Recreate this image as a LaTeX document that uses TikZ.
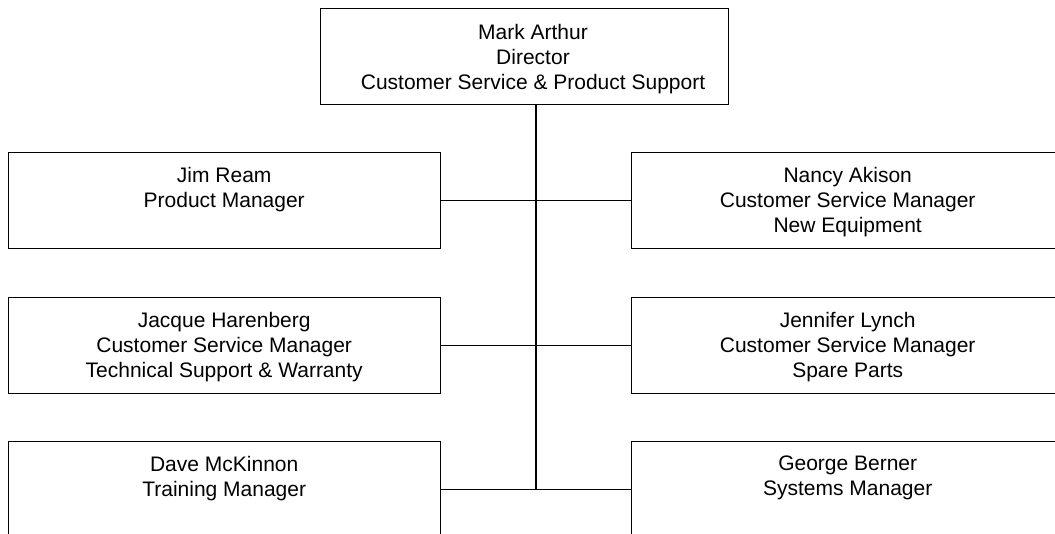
\documentclass[tikz,border=0pt]{standalone}
\usepackage{fontspec}
\setmainfont{Liberation Sans}
\begin{document}
\begin{tikzpicture}[x=1pt,y=-1pt,
  box/.style={draw, line width=1.4pt, minimum width=432pt, minimum height=96pt, inner sep=0pt, anchor=north west},
  lbl/.style={anchor=north, align=center, font=\fontsize{21}{25}\selectfont, inner sep=0pt},
  link/.style={line width=1.4pt}]
\useasboundingbox (0,0) rectangle (1055,534);
\clip (0,0) rectangle (1055,534);
% boxes
\node[box, minimum width=408pt] (dir) at (320,8) {};
\node[box] (jim) at (7.5,152) {};
\node[box] (nancy) at (631,152) {};
\node[box] (jacque) at (7.5,297) {};
\node[box] (jennifer) at (631,297) {};
\node[box] (dave) at (7.5,441) {};
\node[box] (george) at (631,441) {};
% labels
\node[lbl] (dirT) at (533,24) {Mark Arthur\\Director\\Customer Service \& Product Support};
\node[lbl] (jimT) at ([yshift=-15pt]jim.north) {Jim Ream\\Product Manager};
\node[lbl] (nancyT) at ([yshift=-15pt]nancy.north) {Nancy Akison\\Customer Service Manager\\New Equipment};
\node[lbl] (jacqueT) at ([yshift=-15pt]jacque.north) {Jacque Harenberg\\Customer Service Manager\\Technical Support \& Warranty};
\node[lbl] (jenniferT) at ([yshift=-15pt]jennifer.north) {Jennifer Lynch\\Customer Service Manager\\Spare Parts};
\node[lbl] (daveT) at ([yshift=-15pt]dave.north) {Dave McKinnon\\Training Manager};
\node[lbl] (georgeT) at ([yshift=-15pt]george.north) {George Berner\\Systems Manager};
% connectors
\coordinate (spine) at (536,489);
\draw[link] (dir.south -| spine) -- (spine);
\draw[link] (jim.east) -- (nancy.west);
\draw[link] (jacque.east) -- (jennifer.west);
\draw[link] (dave.east) -- (george.west);
\end{tikzpicture}
\end{document}
